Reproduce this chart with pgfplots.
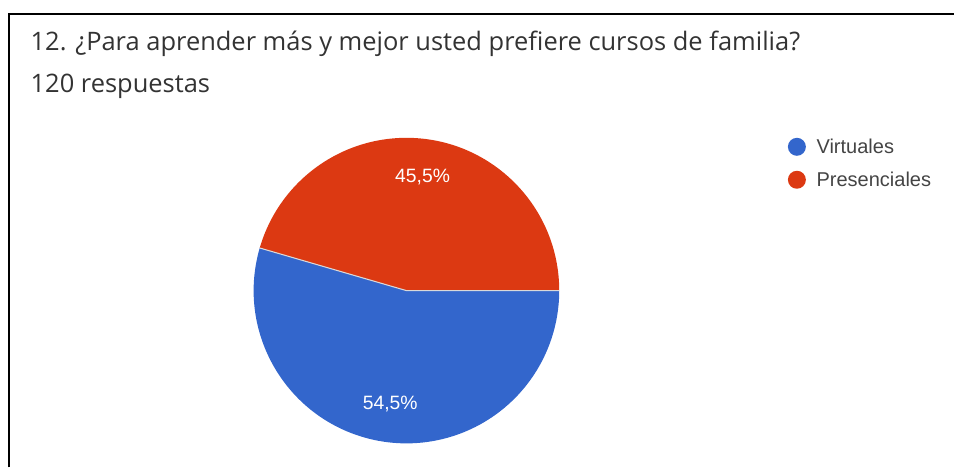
\documentclass[border=0pt]{standalone}
\usepackage{fontspec}
\setmainfont{Open Sans}
\newfontfamily\arialf{Liberation Sans}
\usepackage{pgfplots}
\usepackage{pgfplotstable}
\pgfplotsset{compat=1.18}
\definecolor{pieblue}{RGB}{51,102,204}
\definecolor{piered}{RGB}{220,57,18}
\definecolor{titlegray}{RGB}{51,51,51}
\definecolor{leggray}{RGB}{68,68,68}

% share of answers in percent
\pgfplotstableread{
label value
Virtuales 54.5
Presenciales 45.5
}\piedata

\begin{document}%
\pgfplotstablegetelem{0}{value}\of\piedata \let\va\pgfplotsretval%
\pgfplotstablegetelem{1}{value}\of\piedata \let\vb\pgfplotsretval%
\pgfmathsetmacro\angB{\vb*3.6}%
\pgfmathsetmacro\midB{\angB/2}%
\pgfmathsetmacro\midA{(\angB+360)/2}%
\begin{tikzpicture}
\begin{axis}[
  scale only axis, width=9.55cm, height=4.68cm,
  xmin=0, xmax=955, ymin=0, ymax=468,
  hide axis, clip=false
]
\path (axis cs:0,0) rectangle (axis cs:955,468);
% frame
\draw[black, line width=0.75pt] (axis cs:9,0) -- (axis cs:9,454) -- (axis cs:955,454);
% title
\node[anchor=base west, text=titlegray, font=\fontsize{7.25}{8}\selectfont, inner sep=0pt]
  at (axis cs:30,417) {12. ¿Para aprender más y mejor usted prefiere cursos de familia?};
\node[anchor=base west, text=titlegray, font=\fontsize{7.25}{8}\selectfont, inner sep=0pt]
  at (axis cs:30,375) {120 respuestas};
% slices
\fill[pieblue] (axis cs:407,177) -- (axis cs:{407+153*cos(\angB)},{177+153*sin(\angB)})
  arc[start angle=\angB, end angle=360, radius=153] -- cycle;
\fill[piered] (axis cs:407,177) -- (axis cs:560,177)
  arc[start angle=0, end angle=\angB, radius=153] -- cycle;
\draw[white!85!black, line width=0.3pt] (axis cs:{407+153*cos(\angB)},{177+153*sin(\angB)}) -- (axis cs:407,177) -- (axis cs:560,177);
% slice labels
\node[text=white, font=\arialf\fontsize{5.5}{6}\selectfont]
  at (axis cs:{407+115*cos(\midB)},{177+115*sin(\midB)}) {45,5\%};
\node[text=white, font=\arialf\fontsize{5.5}{6}\selectfont]
  at (axis cs:{407+115*cos(\midA)},{177+115*sin(\midA)}) {54,5\%};
% legend
\fill[pieblue] (axis cs:798,321) circle[radius=9];
\fill[piered] (axis cs:798,288) circle[radius=9];
\node[anchor=west, text=leggray, font=\arialf\fontsize{5.7}{6}\selectfont, inner sep=0pt]
  at (axis cs:817,321) {Virtuales};
\node[anchor=west, text=leggray, font=\arialf\fontsize{5.7}{6}\selectfont, inner sep=0pt]
  at (axis cs:817,288) {Presenciales};
\end{axis}
\end{tikzpicture}
\end{document}
